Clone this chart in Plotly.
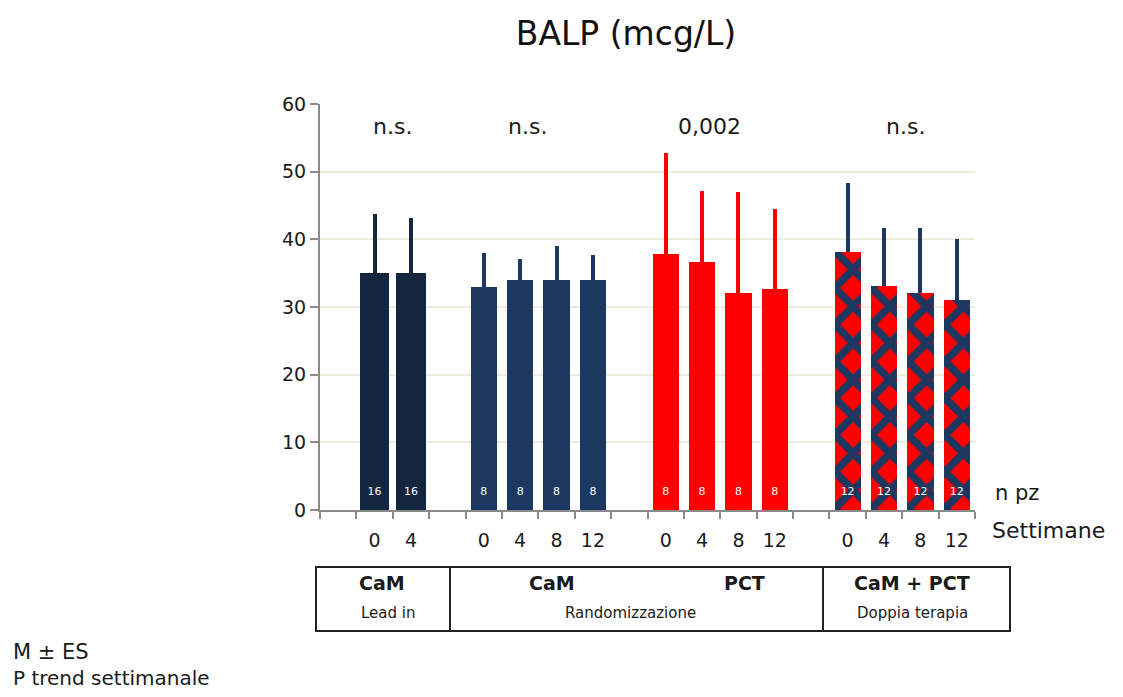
import plotly.graph_objects as go

# ---- data ----
groups = ["CaM lead in", "CaM", "PCT", "CaM + PCT"]
weeks = [[0, 4], [0, 4, 8, 12], [0, 4, 8, 12], [0, 4, 8, 12]]
means = [[35.0, 35.0], [33.0, 34.0, 34.0, 34.0], [37.8, 36.7, 32.1, 32.7], [38.1, 33.1, 32.1, 31.0]]
errs = [[8.7, 8.1], [5.0, 3.1, 5.0, 3.7], [14.9, 10.4, 14.9, 11.8], [10.2, 8.6, 9.6, 9.0]]
npz = [[16, 16], [8, 8, 8, 8], [8, 8, 8, 8], [12, 12, 12, 12]]
pvals = ["n.s.", "n.s.", "0,002", "n.s."]

NAVY_DARK = "#13263F"
NAVY = "#1C3860"
RED = "#FF0000"
FONT = "DejaVu Sans"
TXT = "#1a1a1a"

# page body has an 8px margin: work in screenshot pixels and convert
OFF = 8
W, H = 1123 - 2 * OFF, 697 - 2 * OFF
PL, PR, PT, PB = 320, 975, 104, 510  # plot area in screenshot pixels

fig = go.Figure()

# slot positions: one empty slot before each group
positions = []
pos = 0
for w in weeks:
    pos += 1
    g = []
    for _ in w:
        g.append(pos)
        pos += 1
    positions.append(g)
n_slots = pos

styles = [
    dict(color=NAVY_DARK, width=0.8, pattern=None, err=NAVY_DARK),
    dict(color=NAVY, width=0.72, pattern=None, err=NAVY),
    dict(color=RED, width=0.72, pattern=None, err=RED),
    dict(color=RED, width=0.72,
         pattern=dict(shape="x", fgcolor=NAVY, bgcolor=RED, fgopacity=1, size=26, solidity=0.5,
                      fillmode="overlay"),
         err=NAVY),
]

for gi in range(len(groups)):
    st = styles[gi]
    marker = dict(color=st["color"], line=dict(width=0))
    if st["pattern"]:
        marker["pattern"] = st["pattern"]
    fig.add_trace(go.Bar(
        x=positions[gi], y=means[gi], width=st["width"], marker=marker,
        error_y=dict(type="data", symmetric=False, array=errs[gi], arrayminus=[0] * len(errs[gi]),
                     color=st["err"], thickness=4, width=0),
        name=groups[gi], showlegend=False, hoverinfo="skip",
    ))

# n pz labels at the foot of each bar
N_LABEL_Y = 2.6
for gi in range(len(groups)):
    fig.add_trace(go.Scatter(
        x=positions[gi], y=[N_LABEL_Y] * len(positions[gi]), mode="text",
        text=[str(n) for n in npz[gi]], textfont=dict(color="white", size=11, family=FONT),
        showlegend=False, hoverinfo="skip",
    ))

# p-values above groups
p_x = [1.5, 5.2, 10.2, 15.6]
for gi, p in enumerate(pvals):
    fig.add_annotation(x=p_x[gi], y=56.7, text=p, showarrow=False, xref="x", yref="y",
                       font=dict(size=22, family=FONT, color=TXT))

tickvals = [p for g in positions for p in g]
ticktext = [str(w) for g in weeks for w in g]

fig.update_layout(
    width=W, height=H,
    margin=dict(l=PL - OFF, r=W - (PR - OFF), t=PT - OFF, b=H - (PB - OFF)),
    plot_bgcolor="white", paper_bgcolor="white",
    font=dict(family=FONT, color=TXT),
    title=dict(text="BALP (mcg/L)", x=(626 - OFF) / W, xanchor="center", y=1 - (33 - OFF) / H,
               yanchor="middle", font=dict(size=33, family=FONT, color="#111")),
    bargap=0,
    xaxis=dict(range=[-0.5, n_slots - 0.5], tickmode="array", tickvals=tickvals, ticktext=ticktext,
               ticks="", showgrid=False, zeroline=False, showline=True, linecolor="#8a8a8a", linewidth=2,
               tickfont=dict(size=19, family=FONT, color=TXT), ticklabelstandoff=12,
               minor=dict(tickmode="linear", tick0=-0.5, dtick=1, ticks="outside", ticklen=7,
                          tickwidth=2, tickcolor="#8a8a8a", showgrid=False)),
    yaxis=dict(range=[0, 60], dtick=10, ticks="outside", ticklen=8, tickwidth=2, tickcolor="#8a8a8a",
               showline=True, linecolor="#8a8a8a", linewidth=2, gridcolor="#EEECE1", gridwidth=1.5,
               zeroline=False, tickfont=dict(size=19, family=FONT, color=TXT)),
)


def px_x(px):
    return (px - PL) / (PR - PL)


def px_y(py):
    return (PB - py) / (PB - PT)


def label(text, xpx, ypx, size, anchor="center", bold=False):
    fig.add_annotation(x=px_x(xpx), y=px_y(ypx), xref="paper", yref="paper",
                       text=f"<b>{text}</b>" if bold else text, showarrow=False,
                       xanchor=anchor, yanchor="middle", font=dict(size=size, family=FONT, color=TXT))


# right-side labels
label("n pz", 993, 493, 21, "left")
label("Settimane", 990, 530, 22, "left")

# bottom table
fig.add_shape(type="rect", xref="paper", yref="paper", x0=px_x(316), x1=px_x(1010), y0=px_y(631), y1=px_y(567),
              line=dict(color="#222", width=2))
for vx in [450, 823]:
    fig.add_shape(type="line", xref="paper", yref="paper", x0=px_x(vx), x1=px_x(vx), y0=px_y(631), y1=px_y(567),
                  line=dict(color="#222", width=2))

for t, xpx in [("CaM", 382), ("CaM", 552), ("PCT", 744), ("CaM + PCT", 912)]:
    label(t, xpx, 583, 19, bold=True)
for t, xpx in [("Lead in", 388), ("Randomizzazione", 630), ("Doppia terapia", 912)]:
    label(t, xpx, 613, 15)

# footnotes
label("M ± ES", 11, 652, 21, "left")
label("P trend settimanale", 11, 678, 20, "left")

fig.write_html("out.html")
